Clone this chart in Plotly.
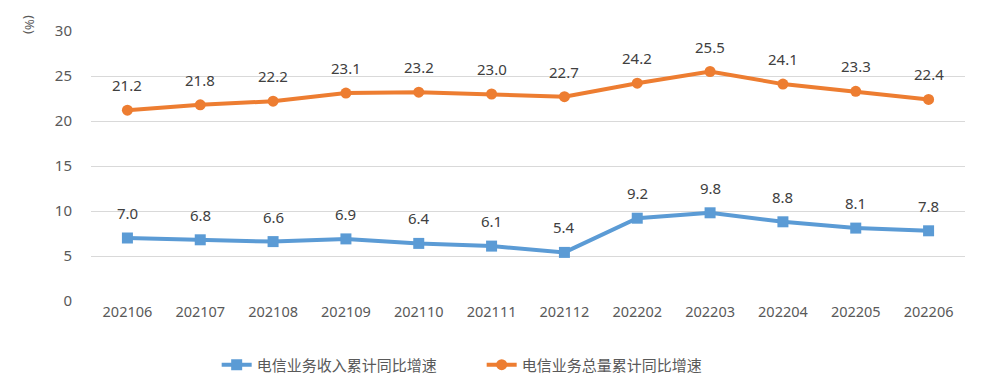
import plotly.graph_objects as go

months = ["202106", "202107", "202108", "202109", "202110", "202111", "202112",
          "202202", "202203", "202204", "202205", "202206"]
revenue_growth = [7.0, 6.8, 6.6, 6.9, 6.4, 6.1, 5.4, 9.2, 9.8, 8.8, 8.1, 7.8]
volume_growth = [21.2, 21.8, 22.2, 23.1, 23.2, 23.0, 22.7, 24.2, 25.5, 24.1, 23.3, 22.4]
name_revenue = "电信业务收入累计同比增速"
name_volume = "电信业务总量累计同比增速"
y_ticks = [0, 5, 10, 15, 20, 25, 30]

BLUE = "#5B9BD5"
ORANGE = "#ED7D31"
FONT = "Noto Sans, Noto Sans CJK SC, sans-serif"

fig = go.Figure()
fig.add_trace(go.Scatter(
    x=months, y=revenue_growth, name=name_revenue, mode="lines+markers",
    line=dict(color=BLUE, width=4),
    marker=dict(symbol="square", size=11, color=BLUE),
))
fig.add_trace(go.Scatter(
    x=months, y=volume_growth, name=name_volume, mode="lines+markers",
    line=dict(color=ORANGE, width=4),
    marker=dict(symbol="circle", size=11, color=ORANGE),
))

for series in (revenue_growth, volume_growth):
    for i, v in enumerate(series):
        fig.add_annotation(x=i, y=v, text=f"{v:.1f}", showarrow=False,
                           yshift=25, font=dict(size=15, color="#404040", family=FONT))

fig.add_annotation(xref="paper", yref="paper", x=-0.07, y=1.022, text="(%)",
                   textangle=90, showarrow=False, xanchor="center", yanchor="middle",
                   font=dict(size=13, color="#595959", family=FONT))

fig.update_layout(
    width=989, height=383,
    margin=dict(l=83, r=32, t=20, b=90),
    paper_bgcolor="white", plot_bgcolor="white",
    font=dict(family=FONT, color="#595959", size=14),
    showlegend=True,
    legend=dict(orientation="h", xref="container", x=0.211, xanchor="left",
                yref="container", y=0.025, yanchor="bottom",
                font=dict(size=15, color="#595959", family=FONT),
                itemwidth=30, tracegroupgap=0,
                entrywidth=220, entrywidthmode="pixels"),
    xaxis=dict(type="category", range=[-0.5, len(months) - 0.5], showgrid=False,
               showline=False, zeroline=False, ticks="",
               tickfont=dict(size=14.5, color="#595959")),
    yaxis=dict(range=[0, 30], tickvals=y_ticks, showgrid=True, gridcolor="#D9D9D9",
               gridwidth=1, zeroline=False, showline=False, ticks="",
               tickfont=dict(size=15, color="#595959"), ticklabelstandoff=18),
)

fig.write_html("out.html")
